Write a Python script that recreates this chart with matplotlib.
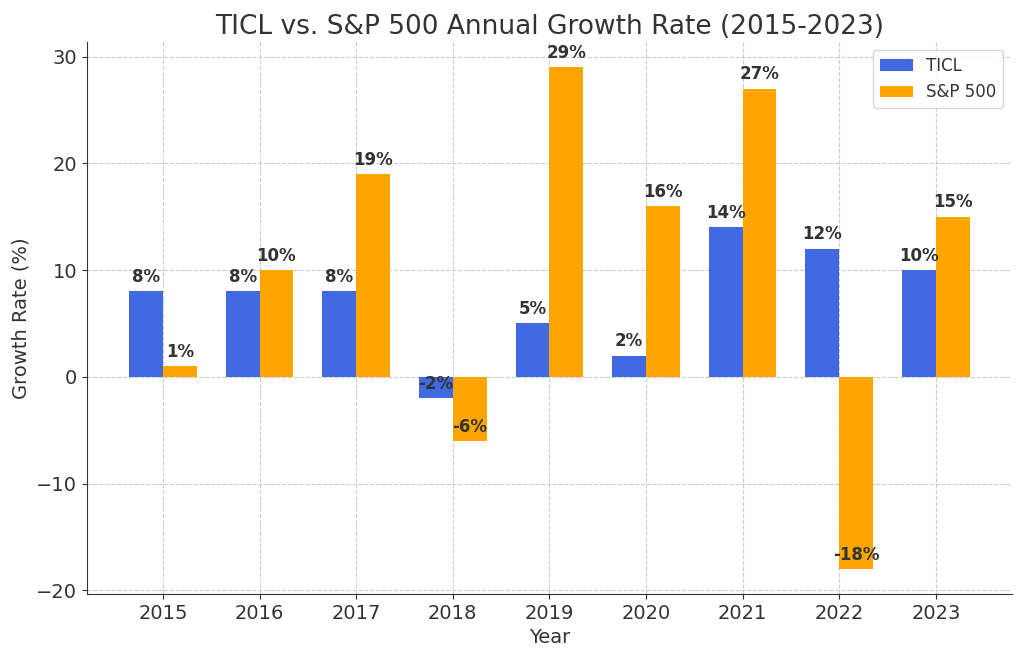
import numpy as np
import matplotlib.pyplot as plt

years = ['2015', '2016', '2017', '2018', '2019', '2020', '2021', '2022', '2023']
ticl = [8, 8, 8, -2, 5, 2, 14, 12, 10]
sp500 = [1, 10, 19, -6, 29, 16, 27, -18, 15]

text_color = '#333333'
plt.rcParams['text.color'] = text_color
plt.rcParams['axes.labelcolor'] = text_color
plt.rcParams['xtick.color'] = text_color
plt.rcParams['ytick.color'] = text_color
plt.rcParams['axes.edgecolor'] = text_color

fig, ax = plt.subplots(figsize=(10.24, 6.58), dpi=100)
fig.subplots_adjust(left=0.085, right=0.988, top=0.936, bottom=0.097)

x = np.arange(len(years))
width = 0.35
bars1 = ax.bar(x - width / 2, ticl, width, label='TICL', color='royalblue')
bars2 = ax.bar(x + width / 2, sp500, width, label='S&P 500', color='orange')

# value labels, same offset above the bar end for positive and negative
for bars in (bars1, bars2):
    for b in bars:
        h = b.get_height()
        ax.text(b.get_x() + b.get_width() / 2, h + 0.5, f'{h:.0f}%',
                ha='center', va='bottom', fontsize=12, fontweight='bold', color=text_color)

ax.set_title('TICL vs. S&P 500 Annual Growth Rate (2015-2023)', fontsize=19, pad=6)
ax.set_xlabel('Year', fontsize=14)
ax.set_ylabel('Growth Rate (%)', fontsize=14)
ax.set_xticks(x)
ax.set_xticklabels(years)
ax.tick_params(labelsize=14)
ax.grid(True, linestyle='--', color='#cccccc', linewidth=0.8)
ax.set_axisbelow(True)
ax.spines['top'].set_visible(False)
ax.spines['right'].set_visible(False)
ax.legend(fontsize=12)

fig.savefig('out.png', dpi=100)
